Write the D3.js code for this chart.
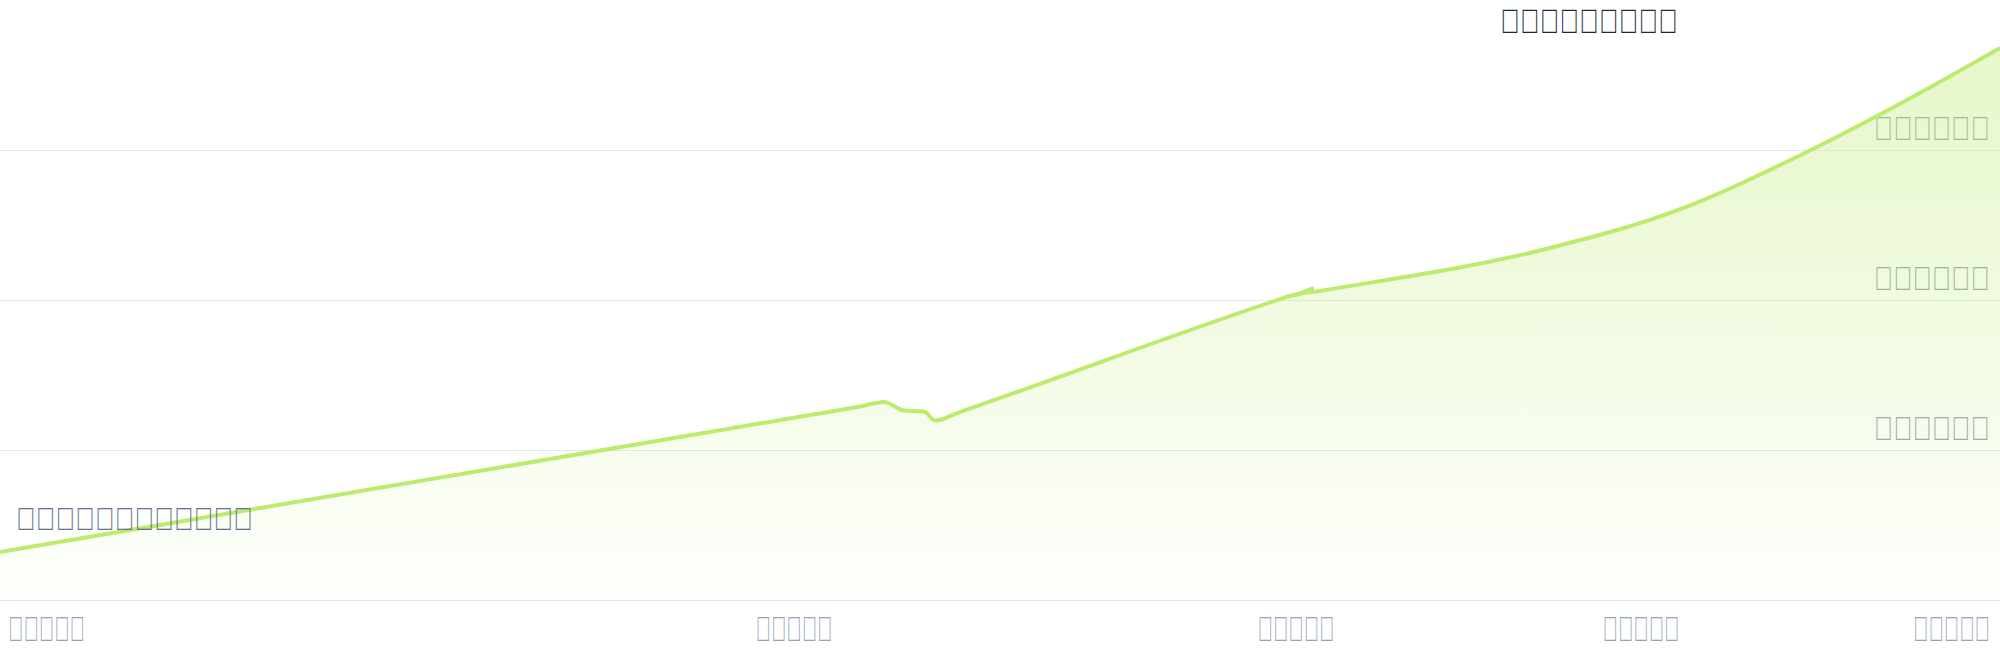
<!DOCTYPE html>
<html><head><meta charset="utf-8">
<script src="https://cdn.jsdelivr.net/npm/d3@7"></script>
<style>body{margin:0;background:#fff}svg{display:block}</style>
</head><body>
<svg id="c" width="2000" height="660"></svg>
<script>
// ---- data (text in the reference renders as missing-glyph boxes) ----
const titleText = '\uE010\uE011\uE012\uE013\uE014\uE015\uE016\uE017\uE018';
const noteText = '\uE020\uE021\uE022\uE023\uE024\uE025\uE026\uE027\uE028\uE029\uE02A\uE02B';
const xTickValues = [0, 397, 648, 820.5, 1000];
const xTickLabels = ['\uE030\uE031\uE032\uE033\uE034', '\uE035\uE036\uE037\uE038\uE039', '\uE03A\uE03B\uE03C\uE03D\uE03E', '\uE03F\uE040\uE041\uE042\uE043', '\uE044\uE045\uE046\uE047\uE048'];
const yTickValues = [100, 200, 300];
const yTickLabels = ['\uE050\uE051\uE052\uE053\uE054\uE055', '\uE056\uE057\uE058\uE059\uE05A\uE05B', '\uE05C\uE05D\uE05E\uE05F\uE060\uE061'];
const seriesX = [0, 397, 430, 442, 452, 462, 467.5, 480, 500, 641.5, 656, 648, 660, 775, 836.5, 903.5, 953.5, 1000];
const seriesY = [32, 121.5, 129, 132, 126.3, 125.7, 119.7, 125.3, 134.7, 201.3, 207.7, 203.3, 206, 234.7, 258.7, 298.7, 333.3, 368];

// ---- layout ----
const W = 2000, H = 660;
const svg = d3.select('#c');
const x = d3.scaleLinear().domain([0, 1000]).range([0, W]);
const y = d3.scaleLinear().domain([0, 400]).range([600, 0]);
const data = seriesX.map((v, i) => ({x: v, y: seriesY[i]}));
const FONT = 'Liberation Sans';
const LINE = '#bdeb6e';

// text whose glyph boxes are squeezed horizontally to the reference width
function boxText(parent, str, px, py, anchor, size, color, targetW) {
  const g = parent.append('g');
  const t = g.append('text').attr('x', 0).attr('y', 0)
    .attr('text-anchor', anchor).attr('font-family', FONT)
    .attr('font-size', size).attr('fill', color).text(str);
  const nat = t.node().getComputedTextLength() || targetW;
  g.attr('transform', `translate(${px},${py}) scale(${(targetW / nat).toFixed(4)},1)`);
  return g;
}

const defs = svg.append('defs');
const grad = defs.append('linearGradient').attr('id', 'fillGrad')
  .attr('gradientUnits', 'userSpaceOnUse').attr('x1', 0).attr('x2', 0)
  .attr('y1', y(d3.max(seriesY))).attr('y2', y(0));
grad.append('stop').attr('offset', '0%').attr('stop-color', LINE).attr('stop-opacity', 0.38);
grad.append('stop').attr('offset', '100%').attr('stop-color', LINE).attr('stop-opacity', 0.02);

// gridlines
svg.append('g').selectAll('line').data([0, ...yTickValues]).join('line')
  .attr('x1', 0).attr('x2', W).attr('y1', d => y(d) + 0.5).attr('y2', d => y(d) + 0.5)
  .attr('stroke', '#e2e8f0').attr('stroke-width', 1.2);

// y labels (under the area)
const yl = svg.append('g');
yTickValues.forEach((v, i) => boxText(yl, yTickLabels[i], W - 10, y(v) - 10, 'end', 33, '#94a3b8', 116));

const curve = d3.curveMonotoneX;
svg.append('path').datum(data)
  .attr('d', d3.area().x(d => x(d.x)).y0(y(0)).y1(d => y(d.y)).curve(curve))
  .attr('fill', 'url(#fillGrad)');
svg.append('path').datum(data)
  .attr('d', d3.line().x(d => x(d.x)).y(d => y(d.y)).curve(curve))
  .attr('fill', 'none').attr('stroke', LINE).attr('stroke-width', 4)
  .attr('stroke-linejoin', 'round');

// x labels
const xl = svg.append('g');
const nX = xTickValues.length;
xTickValues.forEach((v, i) => {
  const anchor = i === 0 ? 'start' : i === nX - 1 ? 'end' : 'middle';
  const px = i === 0 ? x(v) + 8 : i === nX - 1 ? x(v) - 10 : x(v);
  boxText(xl, xTickLabels[i], px, 641, anchor, 35, '#94a3b8', 77);
});

// title
boxText(svg, titleText, 1500, 33, 'start', 34, '#1e293b', 178);

// annotation
boxText(svg, noteText, 16, 530, 'start', 32, '#64748b', 237);
</script>
</body></html>
